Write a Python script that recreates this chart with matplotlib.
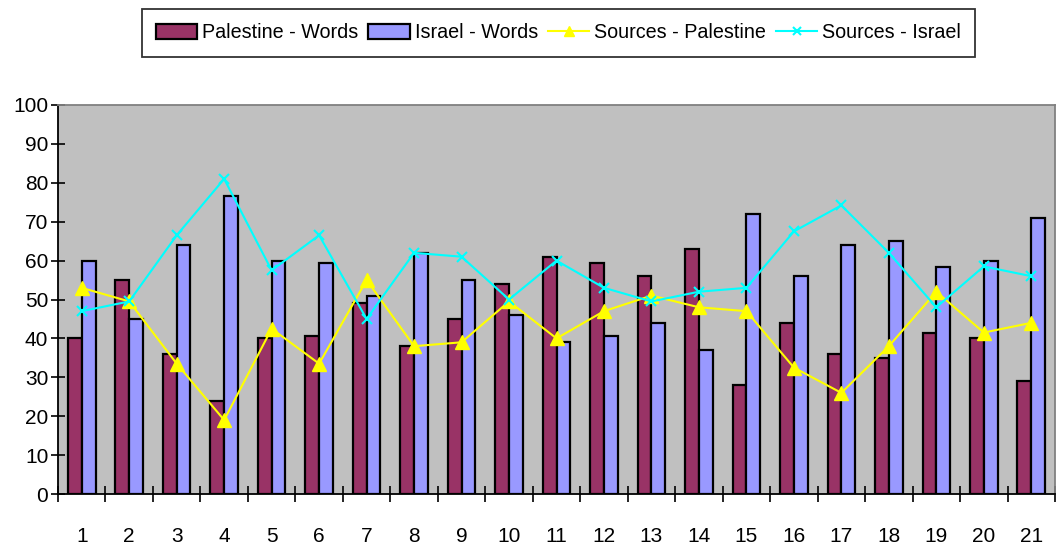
import matplotlib
matplotlib.use("Agg")
import matplotlib.pyplot as plt
import numpy as np

categories = [str(i) for i in range(1, 22)]
palestine_words = [40, 55, 36, 24, 40, 40.5, 49, 38, 45, 54, 61, 59.5, 56, 63, 28, 44, 36, 35, 41.5, 40, 29]
israel_words = [60, 45, 64, 76.5, 60, 59.5, 51, 62, 55, 46, 39, 40.5, 44, 37, 72, 56, 64, 65, 58.3, 60, 71]
sources_palestine = [53, 49.5, 33.5, 19, 42.5, 33.5, 55, 38, 39, 49.5, 40, 47, 51, 48, 47, 32.5, 26, 38, 52, 41.5, 44]
sources_israel = [47, 49.5, 66.5, 81, 57.5, 66.5, 45, 62, 61, 50, 60, 53, 49.5, 52, 53, 67.5, 74.2, 62, 48, 58.5, 56]

plt.rcParams['font.family'] = ['Liberation Sans', 'DejaVu Sans']

fig = plt.figure(figsize=(10.59, 5.45), dpi=100)
ax = fig.add_axes([58/1059, 51/545, (1055-58)/1059, (494-105)/545])
ax.set_facecolor('#C0C0C0')

x = np.arange(1, len(categories) + 1)
w = 0.29
b1 = ax.bar(x - w/2, palestine_words, width=w, color='#993366', edgecolor='black', linewidth=1.6,
            label='Palestine - Words', zorder=2)
b2 = ax.bar(x + w/2, israel_words, width=w, color='#9999FF', edgecolor='black', linewidth=1.6,
            label='Israel - Words', zorder=2)
l1, = ax.plot(x, sources_palestine, color='#FFFF00', marker='^', markersize=10, linewidth=1.5,
              label='Sources - Palestine', zorder=3)
l2, = ax.plot(x, sources_israel, color='#00FFFF', marker='x', markersize=7, markeredgewidth=1.5,
              linewidth=1.5, label='Sources - Israel', zorder=3)

ax.set_xlim(0.5, len(categories) + 0.5)
ax.set_ylim(0, 100)
ax.set_yticks(range(0, 101, 10))
ax.set_xticks(x)
ax.set_xticklabels(categories)
ax.set_xticks(np.arange(0.5, len(categories) + 1, 1), minor=True)
ax.tick_params(axis='x', which='major', length=0, labelsize=15, pad=24)
ax.tick_params(axis='x', which='minor', direction='inout', length=11, width=1.2)
ax.tick_params(axis='y', direction='inout', length=10, width=1.2, labelsize=15, pad=2)

for s in ['left', 'bottom']:
    ax.spines[s].set_color('black')
    ax.spines[s].set_linewidth(1.3)
for s in ['top', 'right']:
    ax.spines[s].set_color('#808080')
    ax.spines[s].set_linewidth(1.3)

leg = fig.legend(handles=[b1, b2, l1, l2], loc='upper center', bbox_to_anchor=(0.5275, 0.983),
                 ncol=4, fontsize=14.2, frameon=True, fancybox=False, edgecolor='black',
                 handlelength=2.1, handleheight=0.75, handletextpad=0.25, columnspacing=0.5,
                 borderpad=0.72, borderaxespad=0, markerscale=0.75)
leg.get_frame().set_linewidth(1.3)

fig.savefig('out.png', dpi=100)
